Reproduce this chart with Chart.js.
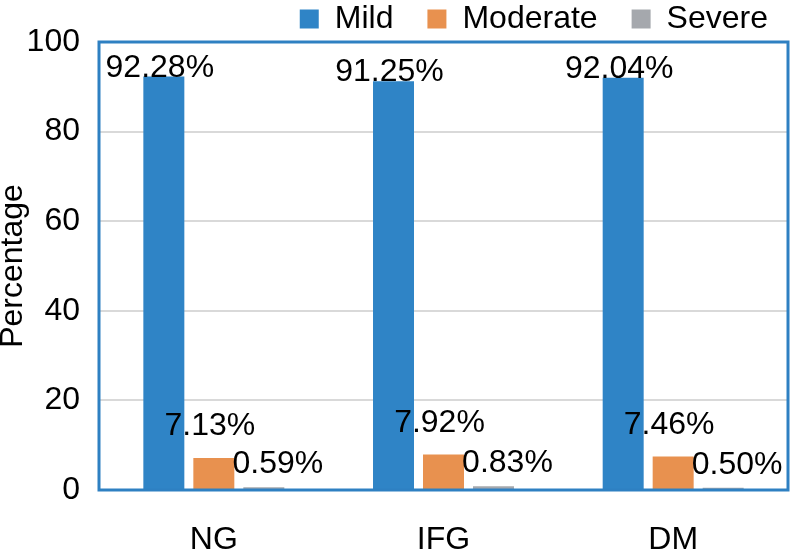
<!DOCTYPE html>
<html>
<head>
<meta charset="utf-8">
<script src="https://cdn.jsdelivr.net/npm/chart.js@4.4.1/dist/chart.umd.min.js"></script>
<style>
  body { margin: 0; background: #fff; }
  #wrap { width: 790px; height: 550px; position: relative; }
</style>
</head>
<body>
<div id="wrap"><canvas id="chart"></canvas></div>
<script>
const categories = ['NG', 'IFG', 'DM'];
const mild = [92.28, 91.25, 92.04];
const moderate = [7.13, 7.92, 7.46];
const severe = [0.59, 0.83, 0.50];
const seriesNames = ['Mild', 'Moderate', 'Severe'];

const BLUE = '#2F84C6';
const ORANGE = '#E8914F';
const GRAY = '#A5A8AD';

Chart.defaults.font.family = '"Liberation Sans", Arial, sans-serif';
Chart.defaults.color = '#000';

// per-series label offsets (dx, dy above bar top)
const labelOffsets = [{ dx: -4, dy: 0 }, { dx: -4, dy: 23 }, { dx: 14, dy: 14 }];

const valueLabels = {
    id: 'valueLabels',
    afterDatasetsDraw(chart) {
        const ctx = chart.ctx;
        ctx.save();
        ctx.font = '32px "Liberation Sans", Arial, sans-serif';
        ctx.fillStyle = '#000';
        ctx.textAlign = 'center';
        ctx.textBaseline = 'alphabetic';
        chart.data.datasets.forEach((ds, i) => {
            const off = labelOffsets[i];
            chart.getDatasetMeta(i).data.forEach((bar, j) => {
                ctx.fillText(ds.data[j].toFixed(2) + '%', bar.x + off.dx, bar.y - off.dy);
            });
        });
        ctx.restore();
    }
};

const frame = {
    id: 'frame',
    afterDatasetsDraw(chart) {
        const a = chart.chartArea;
        const ctx = chart.ctx;
        ctx.save();
        ctx.strokeStyle = '#2E80C2';
        ctx.lineWidth = 3;
        ctx.strokeRect(a.left, a.top, a.right - a.left, a.bottom - a.top);
        ctx.restore();
    }
};

// move the legend row up to the top edge and towards the right edge
// (legend clips to its own box, so only the top moves)
const shiftLegend = {
    id: 'shiftLegend',
    afterLayout(chart) {
        const l = chart.legend;
        if (!l) return;
        l.top -= 31;
        l.left += 14; l.right += 14;
    }
};

new Chart(document.getElementById('chart').getContext('2d'), {
    type: 'bar',
    data: {
        labels: categories,
        datasets: [
            { label: seriesNames[0], data: mild, backgroundColor: BLUE },
            { label: seriesNames[1], data: moderate, backgroundColor: ORANGE },
            { label: seriesNames[2], data: severe, backgroundColor: GRAY }
        ]
    },
    options: {
        responsive: true,
        maintainAspectRatio: false,
        animation: false,
        layout: { padding: { top: 0, right: 2, bottom: 0, left: 0 }, autoPadding: false },
        datasets: { bar: { barPercentage: 0.82, categoryPercentage: 0.653 } },
        scales: {
            x: {
                grid: { display: false },
                border: { display: false },
                ticks: { font: { size: 32 }, color: '#000', padding: 23 },
                afterFit: (s) => { s.height = 60; }
            },
            y: {
                min: 0, max: 100,
                ticks: { stepSize: 20, font: { size: 32 }, color: '#000', padding: 19 },
                grid: { color: '#D9D9D9', lineWidth: 2, drawTicks: false },
                border: { display: false },
                title: { display: true, text: 'Percentage', color: '#000', padding: 0, font: { size: 32, lineHeight: 0.8 } },
                afterFit: (s) => { s.width = 99; }
            }
        },
        plugins: {
            legend: {
                position: 'top',
                align: 'end',
                maxHeight: 42,
                labels: { font: { size: 32 }, color: '#000', boxWidth: 19, boxHeight: 19, padding: 34 }
            },
            tooltip: { enabled: false }
        }
    },
    plugins: [valueLabels, frame, shiftLegend]
});
</script>
</body>
</html>
